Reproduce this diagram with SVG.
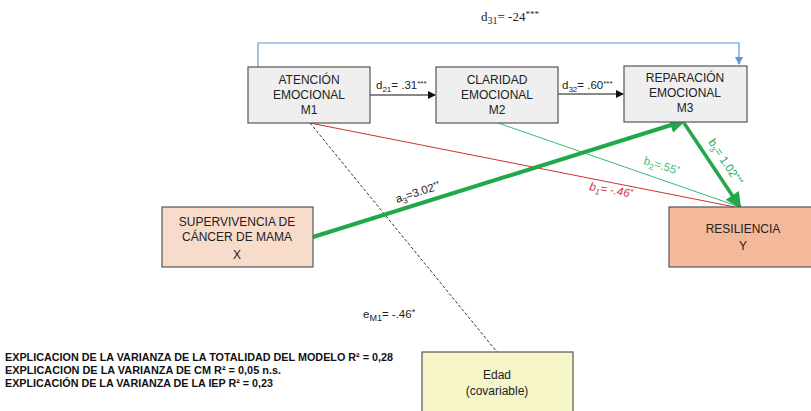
<svg xmlns="http://www.w3.org/2000/svg" width="811" height="411" viewBox="0 0 811 411">
<defs>
<style>
.box{stroke:#555;stroke-width:1.2}
.g{fill:#efefef}
.t{font-family:"Liberation Sans",Arial,sans-serif;font-size:12px;fill:#222;text-anchor:middle}
.lab{font-family:"Liberation Sans",Arial,sans-serif;font-size:11.5px;fill:#222}
.ser{font-family:"Liberation Serif","Times New Roman",serif;font-size:13px;fill:#222}
.bold{font-family:"Liberation Sans",Arial,sans-serif;font-size:10.5px;font-weight:bold;fill:#111}
</style>
<marker id="ab" markerWidth="8" markerHeight="8" refX="7" refY="4" orient="auto" markerUnits="userSpaceOnUse"><path d="M0,0 L8,4 L0,8 z" fill="#111"/></marker>
<marker id="abl" markerWidth="8" markerHeight="8" refX="7" refY="4" orient="auto" markerUnits="userSpaceOnUse"><path d="M0,0 L8,4 L0,8 z" fill="#5b9bd5"/></marker>
<marker id="agr" markerWidth="16" markerHeight="16" refX="14" refY="8" orient="auto" markerUnits="userSpaceOnUse"><path d="M0,0 L16,8 L0,16 z" fill="#22a84a"/></marker>
</defs>
<rect width="811" height="411" fill="#fff"/>
<g id="connectors">
<path d="M258,67 V43 H739 V64" fill="none" stroke="#5b9bd5" stroke-width="1.2" marker-end="url(#abl)"/>
<line x1="370" y1="95" x2="435" y2="95" stroke="#111" stroke-width="1" marker-end="url(#ab)"/>
<line x1="558" y1="94" x2="623" y2="94" stroke="#111" stroke-width="1" marker-end="url(#ab)"/>
<line x1="310" y1="123" x2="497" y2="352" stroke="#333" stroke-width="1" stroke-dasharray="3,2"/>
<line x1="310" y1="123" x2="735" y2="207" stroke="#d03030" stroke-width="1"/>
<line x1="498" y1="123" x2="740" y2="207" stroke="#3cb878" stroke-width="1"/>
<line x1="313" y1="237" x2="684" y2="121" stroke="#22a84a" stroke-width="4" marker-end="url(#agr)"/>
<line x1="684" y1="123" x2="740" y2="207" stroke="#22a84a" stroke-width="3.5" marker-end="url(#agr)"/>
</g>
<g id="labels">
<text class="ser" x="510" y="21" text-anchor="middle">d<tspan font-size="10" dy="3">31</tspan><tspan dy="-3">= -24</tspan><tspan font-size="9" dy="-4">***</tspan></text>
<text class="lab" x="376" y="89">d<tspan font-size="8" dy="3">21</tspan><tspan dy="-3">= .31</tspan><tspan font-size="8" dy="-3">***</tspan></text>
<text class="lab" x="562" y="89">d<tspan font-size="8" dy="3">32</tspan><tspan dy="-3">= .60</tspan><tspan font-size="8" dy="-3">***</tspan></text>
<text class="lab" font-size="12.5" transform="translate(397,203) rotate(-18)">a<tspan font-size="8" dy="3">3</tspan><tspan dy="-3">=3.02</tspan><tspan font-size="8" dy="-3">**</tspan></text>
<text class="lab" style="fill:#d03030;font-style:italic" transform="translate(589,190) rotate(10)">b<tspan font-size="8" dy="3">1</tspan><tspan dy="-3">= -.46</tspan><tspan font-size="8" dy="-3">*</tspan></text>
<text class="lab" style="fill:#3cb878" transform="translate(643,164) rotate(17)">b<tspan font-size="8" dy="3">2</tspan><tspan dy="-3">=.55</tspan><tspan font-size="8" dy="-3">*</tspan></text>
<text class="lab" style="fill:#22a84a" transform="translate(708,142) rotate(57)">b<tspan font-size="8" dy="3">3</tspan><tspan dy="-3">= 1.02</tspan><tspan font-size="8" dy="-3">***</tspan></text>
<text class="lab" x="363" y="318" font-size="13">e<tspan font-size="9" dy="3">M1</tspan><tspan dy="-3">= -.46</tspan><tspan font-size="9" dy="-3">*</tspan></text>
<text class="bold" x="5" y="361" textLength="388" lengthAdjust="spacingAndGlyphs">EXPLICACION DE LA VARIANZA DE LA TOTALIDAD DEL MODELO R² = 0,28</text>
<text class="bold" x="5" y="374" textLength="276" lengthAdjust="spacingAndGlyphs">EXPLICACION DE LA VARIANZA DE CM R² = 0,05 n.s.</text>
<text class="bold" x="5" y="387" textLength="268" lengthAdjust="spacingAndGlyphs">EXPLICACIÓN DE LA VARIANZA DE LA IEP R² = 0,23</text>
</g>
<g id="M1">
<rect class="box g" x="248" y="67" width="122" height="56"/>
<text class="t" x="309" y="84">ATENCIÓN</text>
<text class="t" x="309" y="99">EMOCIONAL</text>
<text class="t" x="309" y="114">M1</text>
</g>
<g id="M2">
<rect class="box g" x="436" y="67" width="122" height="56"/>
<text class="t" x="497" y="84">CLARIDAD</text>
<text class="t" x="497" y="99">EMOCIONAL</text>
<text class="t" x="497" y="114">M2</text>
</g>
<g id="M3">
<rect class="box g" x="624" y="66" width="123" height="56"/>
<text class="t" x="685" y="82">REPARACIÓN</text>
<text class="t" x="685" y="97">EMOCIONAL</text>
<text class="t" x="685" y="112">M3</text>
</g>
<g id="X">
<rect class="box" x="162" y="207" width="151" height="60" fill="#f8dccb"/>
<text class="t" x="237" y="226">SUPERVIVENCIA  DE</text>
<text class="t" x="237" y="241">CÁNCER DE MAMA</text>
<text class="t" x="237" y="259" font-size="15">X</text>
</g>
<g id="Y">
<rect class="box" x="669" y="207" width="145" height="60" fill="#f4b99b"/>
<text class="t" x="743" y="233">RESILIENCIA</text>
<text class="t" x="743" y="250" font-size="13">Y</text>
</g>
<g id="Edad">
<rect class="box" x="422" y="352" width="151" height="65" fill="#f5f5c8"/>
<text class="t" x="497" y="379" font-size="13">Edad</text>
<text class="t" x="497" y="395" font-size="13">(covariable)</text>
</g>
</svg>
